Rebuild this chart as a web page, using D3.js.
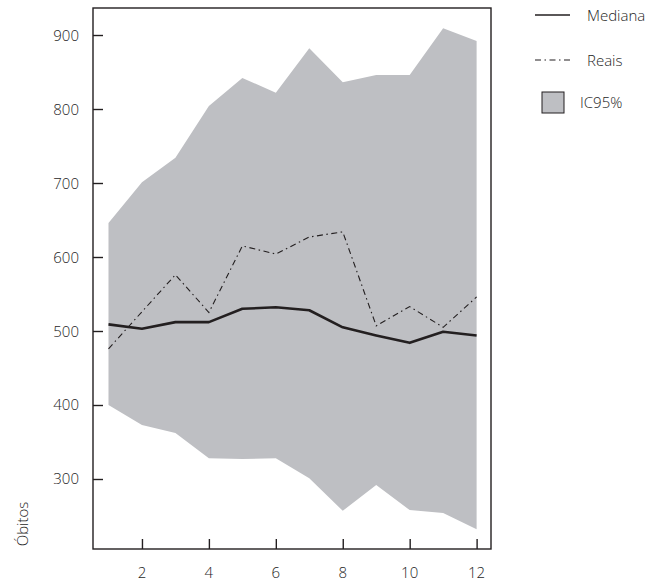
<!DOCTYPE html>
<html>
<head>
<meta charset="utf-8">
<script src="https://cdn.jsdelivr.net/npm/d3@7"></script>
<style>
  body { margin: 0; background: #fff; }
  svg text { font-family: "Open Sans", Lato, sans-serif; font-weight: 300; fill: #1e1e1e; }
</style>
</head>
<body>
<div id="chart"></div>
<script>
const months = [1, 2, 3, 4, 5, 6, 7, 8, 9, 10, 11, 12];
const upper = [646, 701, 734, 804, 842, 822, 882, 836, 846, 846, 909, 892];
const lower = [400, 373, 362, 328, 327, 328, 301, 257, 292, 258, 254, 232];
const median = [509, 503, 512, 512, 530, 532, 528, 505, 494, 484, 499, 494];
const reais = [476, 526, 576, 525, 615, 604, 627, 634, 507, 533, 505, 546];
const xTicks = [2, 4, 6, 8, 10, 12];
const yTicks = [300, 400, 500, 600, 700, 800, 900];

const width = 670, height = 588;
const plot = { left: 93, right: 491, top: 8, bottom: 549 };

const svg = d3.select('#chart').append('svg')
  .attr('width', width)
  .attr('height', height);

const x = d3.scaleLinear().domain([0.537, 12.43]).range([plot.left, plot.right]);
const y = d3.scaleLinear().domain([205.4, 936.5]).range([plot.bottom, plot.top]);

const rows = months.map((m, i) => ({ m, lo: lower[i], hi: upper[i], med: median[i], real: reais[i] }));

// IC95% band
svg.append('path')
  .datum(rows)
  .attr('fill', '#bebfc3')
  .attr('d', d3.area().x(d => x(d.m)).y0(d => y(d.lo)).y1(d => y(d.hi)));

// Reais
svg.append('path')
  .datum(rows)
  .attr('fill', 'none')
  .attr('stroke', '#231f20')
  .attr('stroke-width', 1.1)
  .attr('stroke-dasharray', '6,3.5,1.5,3.5')
  .attr('d', d3.line().x(d => x(d.m)).y(d => y(d.real)));

// Mediana
svg.append('path')
  .datum(rows)
  .attr('fill', 'none')
  .attr('stroke', '#231f20')
  .attr('stroke-width', 2.6)
  .attr('stroke-linejoin', 'round')
  .attr('d', d3.line().x(d => x(d.m)).y(d => y(d.med)));

// frame
svg.append('rect')
  .attr('x', plot.left).attr('y', plot.top)
  .attr('width', plot.right - plot.left).attr('height', plot.bottom - plot.top)
  .attr('fill', 'none').attr('stroke', '#231f20').attr('stroke-width', 1.4);

// axes with inward ticks
const yAxis = svg.append('g')
  .attr('transform', `translate(${plot.left},0)`)
  .call(d3.axisRight(y).tickValues(yTicks).tickSize(10).tickFormat(''));
yAxis.select('.domain').remove();
yAxis.selectAll('line').attr('stroke', '#231f20').attr('stroke-width', 1.4);
svg.append('g').selectAll('text').data(yTicks).join('text')
  .attr('x', 79).attr('y', d => y(d) + 5.5)
  .attr('text-anchor', 'end').attr('font-size', 15)
  .text(d => d);

const xAxis = svg.append('g')
  .attr('transform', `translate(0,${plot.bottom})`)
  .call(d3.axisTop(x).tickValues(xTicks).tickSize(10).tickFormat(''));
xAxis.select('.domain').remove();
xAxis.selectAll('line').attr('stroke', '#231f20').attr('stroke-width', 1.4);
svg.append('g').selectAll('text').data(xTicks).join('text')
  .attr('x', d => x(d)).attr('y', 578)
  .attr('text-anchor', 'middle').attr('font-size', 15)
  .text(d => d);

svg.append('text')
  .attr('transform', 'translate(28,524) rotate(-90)')
  .attr('text-anchor', 'middle').attr('font-size', 15)
  .text('Óbitos');

// legend
const lg = svg.append('g');
lg.append('line').attr('x1', 535).attr('x2', 570).attr('y1', 15).attr('y2', 15)
  .attr('stroke', '#231f20').attr('stroke-width', 1.3);
lg.append('text').attr('x', 587).attr('y', 20.5).attr('font-size', 15).text('Mediana');
lg.append('line').attr('x1', 535).attr('x2', 570).attr('y1', 60).attr('y2', 60)
  .attr('stroke', '#231f20').attr('stroke-width', 1.1).attr('stroke-dasharray', '6,3.5,1.5,3.5');
lg.append('text').attr('x', 587).attr('y', 65.5).attr('font-size', 15).text('Reais');
lg.append('rect').attr('x', 542).attr('y', 92).attr('width', 22).attr('height', 21)
  .attr('fill', '#bebfc3').attr('stroke', '#231f20').attr('stroke-width', 1);
lg.append('text').attr('x', 580).attr('y', 108).attr('font-size', 15).text('IC95%');
</script>
</body>
</html>
